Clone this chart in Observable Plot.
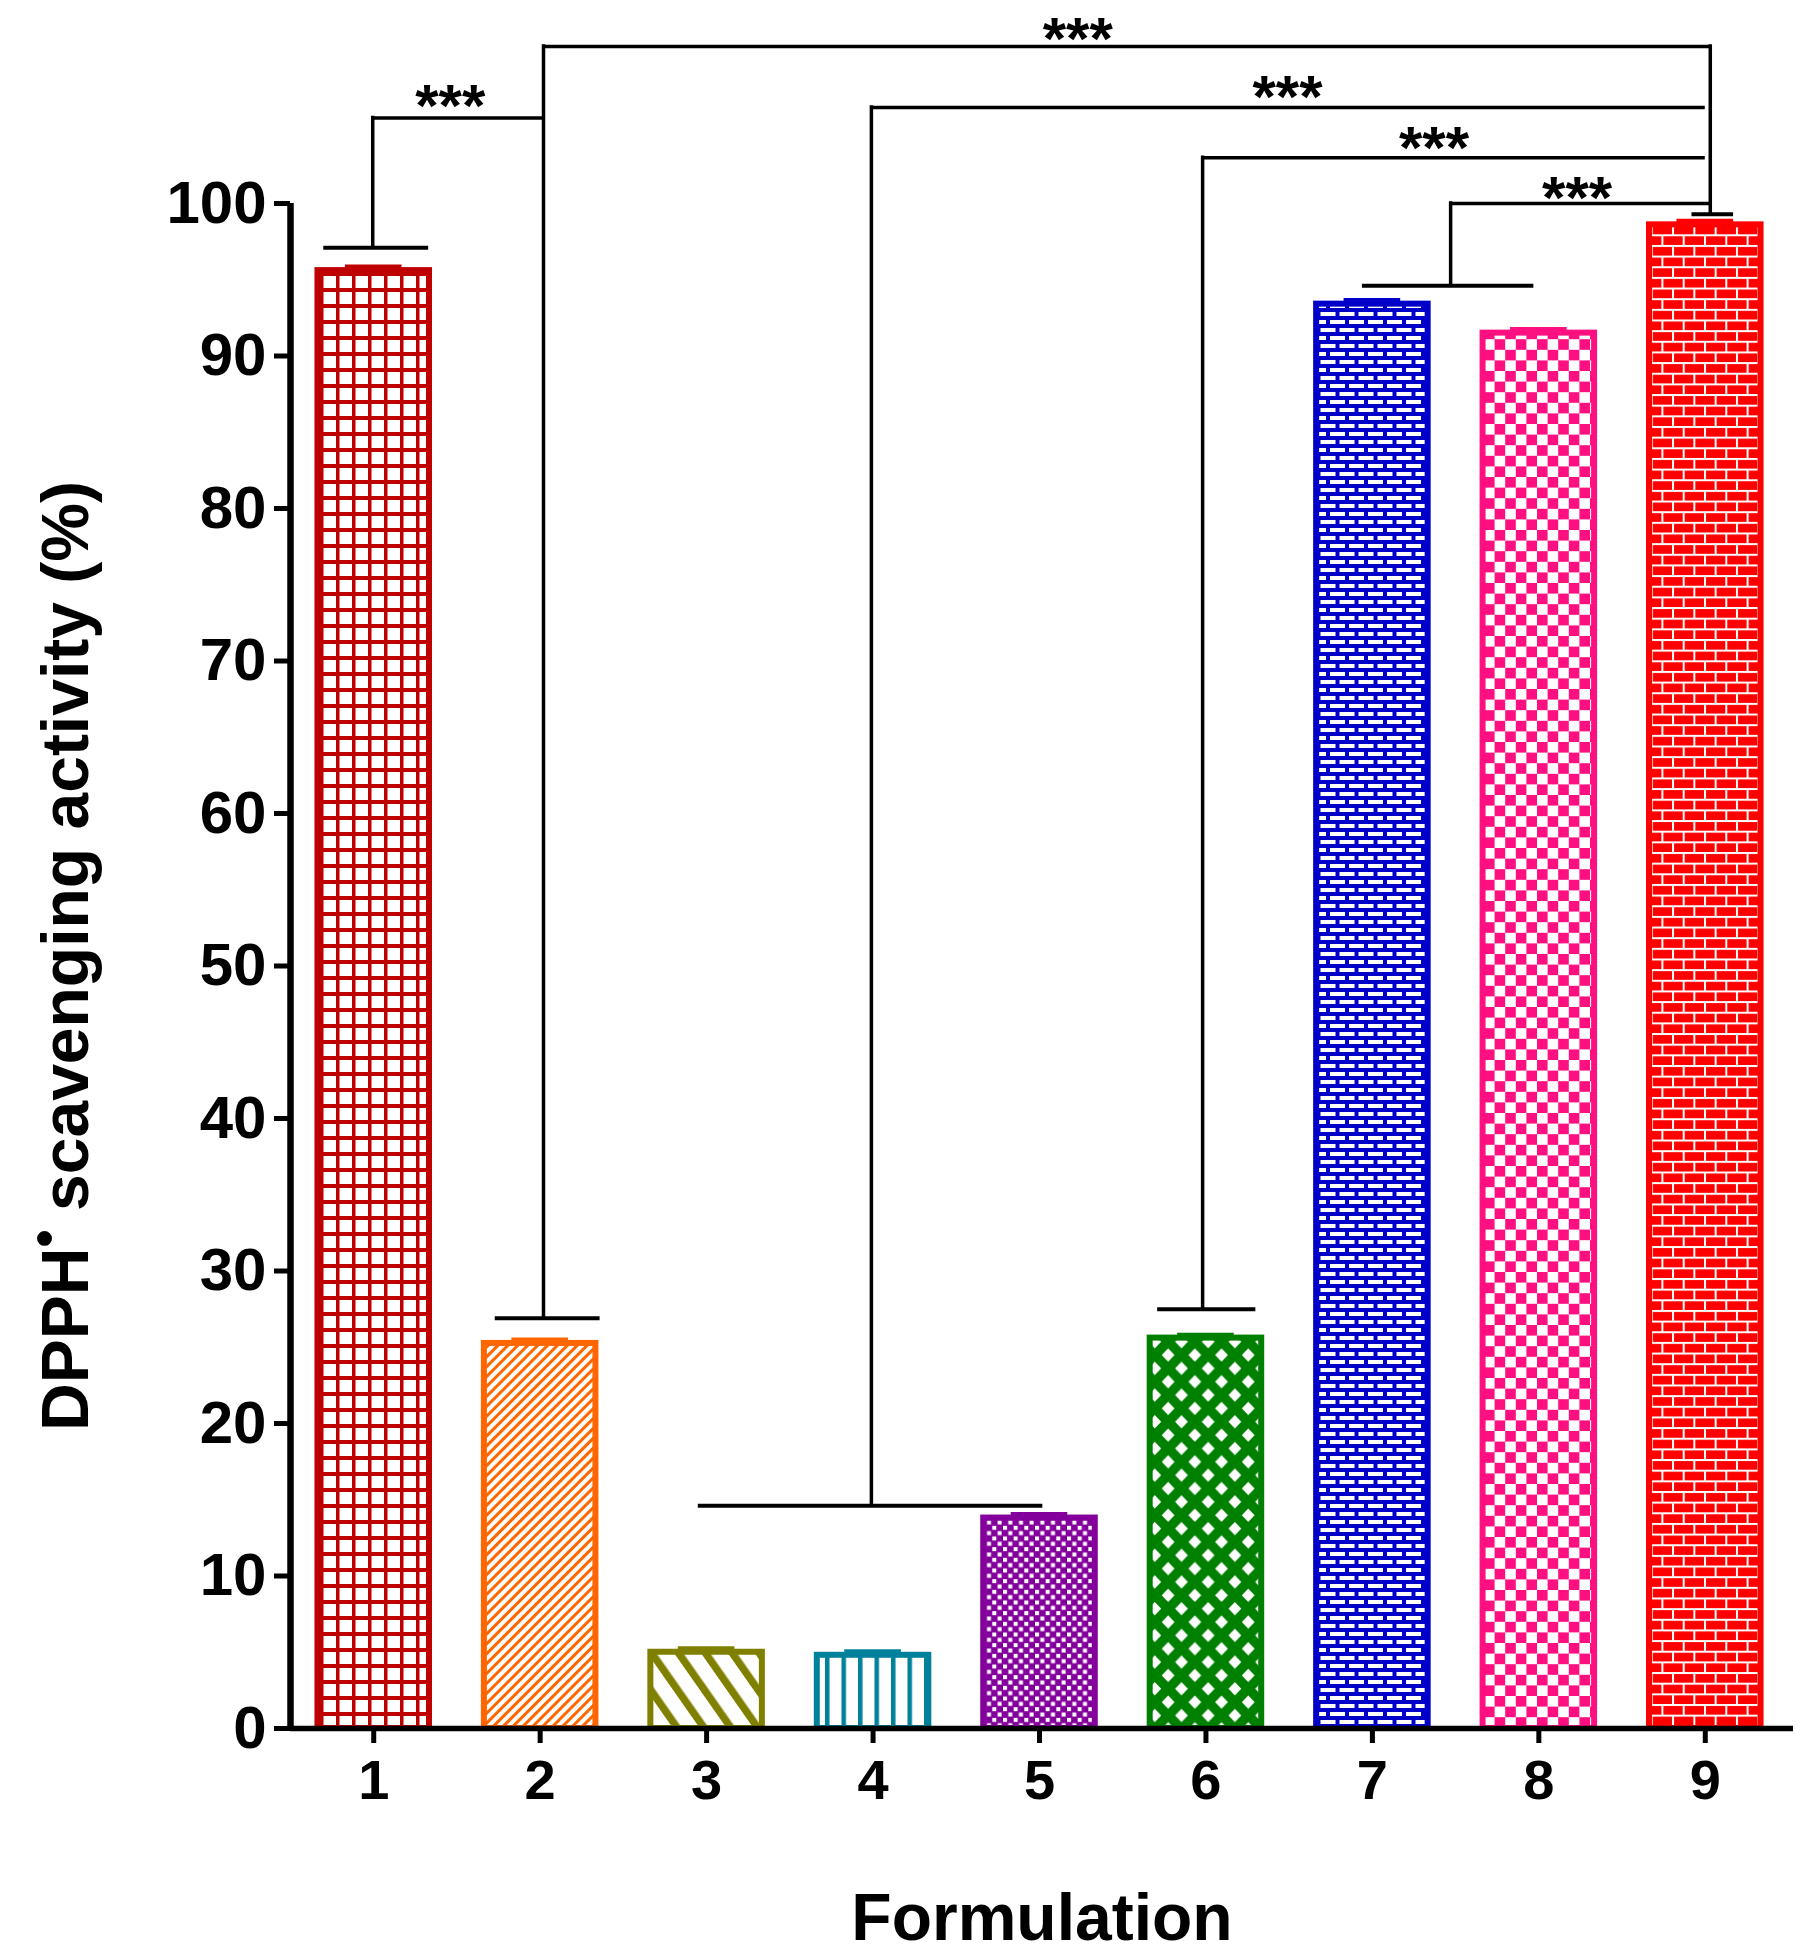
<!DOCTYPE html>
<html>
<head>
<meta charset="utf-8">
<script src="https://cdn.jsdelivr.net/npm/d3@7"></script>
<script src="https://cdn.jsdelivr.net/npm/@observablehq/plot@0.6"></script>
<style>
  html, body { margin: 0; padding: 0; background: #fff; }
  #chart svg { display: block; }
</style>
</head>
<body>
<div id="chart"></div>
<script>
// Datos: actividad de captura DPPH por formulación (%)
const formulations = [1, 2, 3, 4, 5, 6, 7, 8, 9];
const activity = [95.6, 25.25, 5.0, 4.8, 13.8, 25.6, 93.4, 91.5, 98.6];
const sd = [0.2, 0.2, 0.2, 0.2, 0.2, 0.15, 0.2, 0.2, 0.2];
const barColors = ["#BF0000", "#FF6600", "#808000", "#00819B", "#84009C", "#008000", "#0000C8", "#FF1080", "#FF0000"];
const yTicks = [0, 10, 20, 30, 40, 50, 60, 70, 80, 90, 100];
const xDomain = [0.5, 9.53];

// brackets de significancia (unidades de los ejes)
const sigTops = [
  {x1: 0.994, x2: 2.02, y: 105.6},
  {x1: 2.02, x2: 9.03, y: 110.3},
  {x1: 3.99, x2: 9.0, y: 106.3},
  {x1: 5.98, x2: 9.0, y: 103.0},
  {x1: 7.47, x2: 9.03, y: 100.0}
];
const sigLegs = [
  {x: 0.994, y1: 97.1, y2: 105.6},
  {x: 2.02, y1: 26.9, y2: 110.3},
  {x: 3.99, y1: 14.6, y2: 106.3},
  {x: 5.98, y1: 27.5, y2: 103.0},
  {x: 7.47, y1: 94.6, y2: 100.0},
  {x: 9.03, y1: 99.3, y2: 110.3}
];
const sigBases = [
  {x1: 0.70, x2: 1.33, y: 97.1},
  {x1: 1.73, x2: 2.36, y: 26.9},
  {x1: 2.95, x2: 5.02, y: 14.6},
  {x1: 5.71, x2: 6.30, y: 27.5},
  {x1: 6.94, x2: 7.97, y: 94.6},
  {x1: 8.92, x2: 9.17, y: 99.3}
];
const sigStars = [
  {x: 1.46, y: 107.3, label: "***"},
  {x: 5.23, y: 111.7, label: "***"},
  {x: 6.49, y: 107.9, label: "***"},
  {x: 7.37, y: 104.6, label: "***"},
  {x: 8.23, y: 101.3, label: "***"}
];

const xTitle = "Formulation";
const yTitle = "DPPH• scavenging activity (%)";

const barHalf = 0.335;
const capHalf = 0.17;

let bars = formulations.map((f, i) => ({
  f: f,
  value: activity[i],
  sd: sd[i],
  color: barColors[i],
  pattern: `url(#pat${f})`
}));

let chart = Plot.plot({
  width: 1807,
  height: 1955,
  marginLeft: 290,
  marginRight: 14,
  marginTop: 203,
  marginBottom: 227,
  x: {domain: xDomain},
  y: {domain: [0, 100]},
  color: {type: "identity"},
  style: {fontFamily: "'Liberation Sans', Arial, sans-serif", fontWeight: "bold", background: "white", color: "black"},
  marks: [
    Plot.rectY(bars, {x1: d => d.f - barHalf, x2: d => d.f + barHalf, y1: 0, y2: "value", fill: "pattern", stroke: "color", strokeWidth: 6}),
    Plot.ruleY(bars, {x1: d => d.f - capHalf, x2: d => d.f + capHalf, y: d => d.value + d.sd, stroke: "color", strokeWidth: 6}),
    // ejes
    Plot.ruleX([xDomain[0]], {y1: 0, y2: 100, strokeWidth: 6.5}),
    Plot.ruleY([0], {x1: xDomain[0], x2: xDomain[1], strokeWidth: 5.7}),
    Plot.axisY(yTicks, {anchor: "left", tickSize: 16, tickPadding: 8, fontSize: 60, strokeWidth: 5, label: null, tickFormat: d3.format("d")}),
    Plot.axisX(formulations, {anchor: "bottom", tickSize: 15, tickPadding: 16, fontSize: 56, strokeWidth: 5, label: null, tickFormat: d3.format("d")}),
    // significancia
    Plot.ruleY(sigTops, {x1: "x1", x2: "x2", y: "y", strokeWidth: 3.5}),
    Plot.ruleX(sigLegs, {x: "x", y1: "y1", y2: "y2", strokeWidth: 3.5, strokeLinecap: "square"}),
    Plot.ruleY(sigBases, {x1: "x1", x2: "x2", y: "y", strokeWidth: 4}),
    Plot.text(sigStars, {x: "x", y: "y", text: "label", fontSize: 60, lineAnchor: "middle", dy: 15}),
    // títulos
    Plot.text([xTitle], {text: d => d, frameAnchor: "bottom", textAnchor: "middle", dy: 190, fontSize: 66, lineAnchor: "middle"}),
    Plot.text([yTitle], {text: d => d, frameAnchor: "left", textAnchor: "middle", dx: -224, dy: -10, rotate: -90, fontSize: 66, lineAnchor: "middle"})
  ]
});

// patrones de relleno de las barras
let defs = d3.select(chart).insert("defs", ":first-child");
function pattern(id, w, h, bg, transform) {
  let p = defs.append("pattern").attr("id", id).attr("patternUnits", "userSpaceOnUse")
    .attr("width", w).attr("height", h);
  if (transform) p.attr("patternTransform", transform);
  p.append("rect").attr("width", w).attr("height", h).attr("fill", bg);
  return p;
}
function box(p, x, y, w, h, fill) {
  p.append("rect").attr("x", x).attr("y", y).attr("width", w).attr("height", h).attr("fill", fill);
}
let p;
p = pattern("pat1", 16, 16, "white"); box(p, 0, 0, 3.5, 16, barColors[0]); box(p, 0, 0, 16, 4, barColors[0]);
p = pattern("pat2", 7, 7, "white", "rotate(45)"); box(p, 0, 0, 3, 7, barColors[1]);
p = pattern("pat3", 22, 22, "white", "rotate(-35)"); box(p, 0, 0, 7.5, 22, barColors[2]);
p = pattern("pat4", 16.5, 16.5, "white"); box(p, 0, 0, 4.5, 16.5, barColors[3]);
p = pattern("pat5", 10.67, 10.67, barColors[4]); box(p, 0, 0, 4, 4, "white"); box(p, 5.33, 5.33, 4, 4, "white");
p = pattern("pat6", 26.7, 26.7, barColors[5]);
[[6.7, 6.7], [20.05, 20.05]].forEach(([cx, cy]) => {
  p.append("path").attr("d", `M${cx},${cy - 6.6}L${cx + 6.4},${cy}L${cx},${cy + 6.6}L${cx - 6.4},${cy}Z`).attr("fill", "white");
});
p = pattern("pat7", 19, 16, barColors[6]); box(p, 0, 0, 15, 4, "white"); box(p, 9.5, 8, 15, 4, "white"); box(p, -9.5, 8, 15, 4, "white");
p = pattern("pat8", 21.2, 21.2, barColors[7]); box(p, 0, 0, 10.6, 10.6, "white"); box(p, 10.6, 10.6, 10.6, 10.6, "white");
p = pattern("pat9", 21.3, 21.3, barColors[8]);
box(p, 0, 0, 21.3, 2, "white"); box(p, 0, 10.65, 21.3, 2, "white");
box(p, 0, 0, 2, 10.65, "white"); box(p, 10.65, 10.65, 2, 10.65, "white");

// superíndice del radical en el título del eje y
d3.select(chart).selectAll("text").filter(function() { return this.textContent === yTitle; }).each(function() {
  let t = d3.select(this);
  let [a, b] = yTitle.split("•");
  t.text(null);
  t.append("tspan").text(a);
  t.append("tspan").attr("font-size", 52).attr("dy", -26).text("•");
  t.append("tspan").attr("dy", 26).text(b);
});

d3.select('#chart').append(() => chart);
</script>
</body>
</html>
